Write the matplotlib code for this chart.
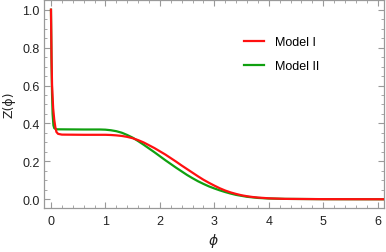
import matplotlib
matplotlib.use("Agg")
import matplotlib.pyplot as plt
from matplotlib.ticker import MultipleLocator

plt.rcParams["font.family"] = ["Liberation Sans", "DejaVu Sans"]

# values
phi_1 = [0.0, 0.01, 0.02, 0.04, 0.06, 0.08, 0.10, 0.13, 0.2, 0.6, 1.0, 1.1, 1.2, 1.3,
         1.4, 1.5, 1.6, 1.7, 1.8, 1.9, 2.0, 2.1, 2.2, 2.3, 2.4, 2.5, 2.6, 2.7, 2.8,
         2.9, 3.0, 3.1, 3.2, 3.3, 3.4, 3.5, 3.6, 3.7, 3.8, 4.0, 4.3, 5.0, 6.2]
z_1 = [1.0, 0.75, 0.60, 0.48, 0.42, 0.38, 0.355, 0.345, 0.341, 0.340, 0.340, 0.339,
       0.337, 0.334, 0.329, 0.322, 0.312, 0.300, 0.285, 0.270, 0.253, 0.236, 0.217,
       0.198, 0.178, 0.159, 0.140, 0.121, 0.103, 0.087, 0.072, 0.058, 0.046, 0.036,
       0.028, 0.021, 0.016, 0.012, 0.009, 0.005, 0.002, 0.0006, 0.0]

phi_2 = [0.0, 0.01, 0.02, 0.03, 0.045, 0.06, 0.1, 0.6, 0.9, 1.0, 1.1, 1.2, 1.3, 1.4,
         1.5, 1.6, 1.7, 1.8, 1.9, 2.0, 2.1, 2.2, 2.3, 2.4, 2.5, 2.6, 2.7, 2.8, 2.9,
         3.0, 3.1, 3.2, 3.3, 3.4, 3.5, 3.6, 3.7, 3.8, 4.0, 4.3, 5.0, 6.2]
z_2 = [1.0, 0.72, 0.55, 0.45, 0.39, 0.375, 0.369, 0.368, 0.368, 0.367, 0.364, 0.359,
       0.351, 0.339, 0.325, 0.307, 0.288, 0.268, 0.248, 0.227, 0.206, 0.186, 0.166,
       0.147, 0.128, 0.111, 0.095, 0.081, 0.068, 0.057, 0.047, 0.038, 0.030, 0.023,
       0.018, 0.013, 0.010, 0.007, 0.004, 0.002, 0.0005, 0.0]

labels = ["Model I", "Model II"]

fig = plt.figure(figsize=(3.86, 2.53), dpi=100)
ax = fig.add_axes([0.114, 0.174, 0.880, 0.822])

ax.plot(phi_2, z_2, color="#10a010", lw=1.6, label=labels[1], zorder=2)
ax.plot(phi_1, z_1, color="#ff1010", lw=1.6, label=labels[0], zorder=3)

ax.set_xlim(-0.128, 6.11)
ax.set_ylim(-0.046, 1.051)

ax.xaxis.set_major_locator(MultipleLocator(1))
ax.xaxis.set_minor_locator(MultipleLocator(0.2))
ax.yaxis.set_major_locator(MultipleLocator(0.2))
ax.yaxis.set_minor_locator(MultipleLocator(0.05))
ax.yaxis.set_major_formatter(plt.FuncFormatter(lambda v, p: f"{v:.1f}"))

frame_col = "#999999"
for s in ax.spines.values():
    s.set_color(frame_col)
    s.set_linewidth(0.9)
ax.tick_params(which="both", direction="in", top=True, right=True,
               color=frame_col, labelcolor="#222222", labelsize=9)
ax.tick_params(which="major", length=4, width=0.8)
ax.tick_params(which="minor", length=2, width=0.6)
ax.tick_params(axis="x", pad=5)
ax.tick_params(axis="y", pad=3)

ax.set_xlabel(r"$\phi$", fontsize=10, color="#222222", labelpad=3)
ax.set_ylabel("Z(ϕ)", fontsize=9, color="#222222", labelpad=5,
              family=["DejaVu Sans"])

handles, labs = ax.get_legend_handles_labels()
ax.legend(handles[::-1], labs[::-1], loc="upper left",
          bbox_to_anchor=(0.555, 0.88), frameon=False, fontsize=9,
          handlelength=1.6, handletextpad=0.9, labelspacing=0.95)

fig.savefig("out.png", dpi=100)
